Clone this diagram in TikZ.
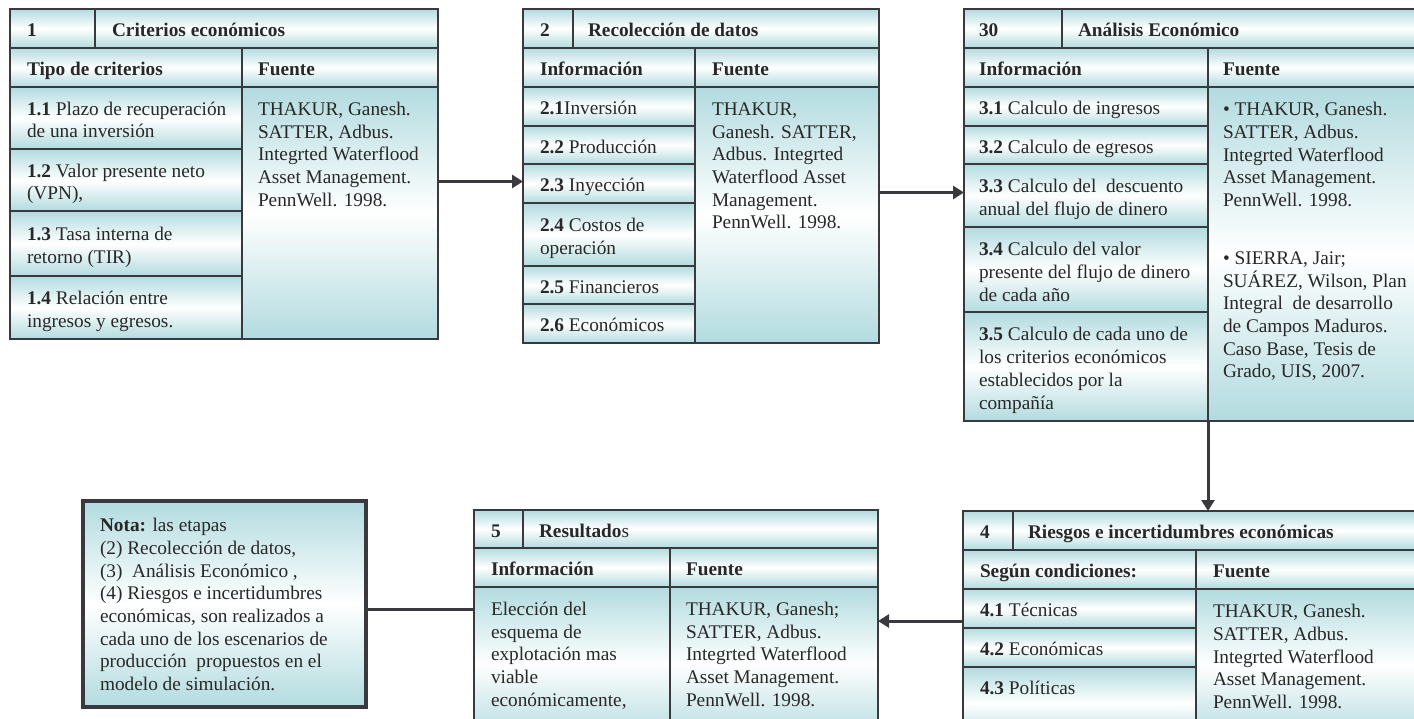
\documentclass[tikz,border=0pt]{standalone}
\usepackage{fontspec}
\setmainfont{Liberation Serif}
\usetikzlibrary{arrows.meta,fit}
\definecolor{tealc}{RGB}{178,219,223}
\definecolor{edgec}{RGB}{58,58,62}
\definecolor{txtc}{RGB}{40,40,40}
\newcommand{\cellr}[4]{\path[cellst] (#1,#2) rectangle (#3,#4);}
\begin{document}
\begin{tikzpicture}[x=0.5pt,y=-0.5pt,
  cellst/.style={draw=edgec, line width=1pt, top color=tealc, bottom color=tealc, middle color=white},
  notast/.style={draw=edgec, line width=2pt, top color=tealc, bottom color=tealc, middle color=white},
  txt/.style={anchor=base west, inner sep=0pt, outer sep=0pt, align=left, text=txtc, font=\fontsize{9.65}{11.35}\selectfont},
  framebox/.style={inner sep=0pt, outer sep=0pt, draw=none},
  arr/.style={draw=edgec, line width=1.5pt, -{Triangle[length=5.5pt,width=6.5pt]}},
  link/.style={draw=edgec, line width=1.5pt}]
\useasboundingbox (0,0) rectangle (1414,718);
\clip (0,0) rectangle (1414,718);

% ---------------- Box 1
\cellr{10}{9}{95}{48} \cellr{95}{9}{438}{48}
\cellr{10}{48}{242}{87} \cellr{242}{48}{438}{87}
\cellr{10}{87}{242}{149} \cellr{10}{149}{242}{211}
\cellr{10}{211}{242}{276} \cellr{10}{276}{242}{339}
\cellr{242}{87}{438}{339}
\node[framebox, fit={(10,9) (438,339)}] (b1) {};
\node[txt] (t1n) at (27,36.9) {\textbf{1}};
\node[txt] (t1t) at (112,36.9) {\textbf{Criterios económicos}};
\node[txt] (t1ha) at (27,75.9) {\textbf{Tipo de criterios}};
\node[txt] (t1hb) at (258,75.9) {\textbf{Fuente}};
\node[txt] (t11) at (27,137.75) {\textbf{1.1} Plazo de recuperación\\de una inversión};
\node[txt] (t12) at (27,199.75) {\textbf{1.2} Valor presente neto\\(VPN),};
\node[txt] (t13) at (27,263.25) {\textbf{1.3} Tasa interna de\\retorno (TIR)};
\node[txt] (t14) at (27,327.25) {\textbf{1.4} Relación entre\\ingresos y egresos.};
\node[txt] (t1f) at (258,206.2) {THAKUR, Ganesh.\\SATTER, Adbus.\\Integrted Waterflood\\Asset Management.\\PennWell. 1998.};

% ---------------- Box 2
\cellr{523}{9}{573}{48} \cellr{573}{9}{879}{48}
\cellr{523}{48}{695}{87} \cellr{695}{48}{879}{87}
\cellr{523}{87}{695}{126} \cellr{523}{126}{695}{164}
\cellr{523}{164}{695}{203} \cellr{523}{203}{695}{266}
\cellr{523}{266}{695}{304} \cellr{523}{304}{695}{343}
\cellr{695}{87}{879}{343}
\node[framebox, fit={(523,9) (879,343)}] (b2) {};
\node[txt] (t2n) at (540,36.9) {\textbf{2}};
\node[txt] (t2t) at (588,36.9) {\textbf{Recolección de datos}};
\node[txt] (t2ha) at (540,75.9) {\textbf{Información}};
\node[txt] (t2hb) at (712,75.9) {\textbf{Fuente}};
\node[txt] (t21) at (540,114.9) {\textbf{2.1}Inversión};
\node[txt] (t22) at (540,153.4) {\textbf{2.2} Producción};
\node[txt] (t23) at (540,191.9) {\textbf{2.3} Inyección};
\node[txt] (t24) at (540,254.25) {\textbf{2.4} Costos de\\operación};
\node[txt] (t25) at (540,293.4) {\textbf{2.5} Financieros};
\node[txt] (t26) at (540,331.9) {\textbf{2.6} Económicos};
\node[txt] (t2f) at (712,228.9) {THAKUR,\\Ganesh. SATTER,\\Adbus. Integrted\\Waterflood Asset\\Management.\\PennWell. 1998.};

% ---------------- Box 3
\cellr{964}{9}{1062}{48} \cellr{1062}{9}{1440}{48}
\cellr{964}{48}{1208}{87} \cellr{1208}{48}{1440}{87}
\cellr{964}{87}{1208}{126} \cellr{964}{126}{1208}{164}
\cellr{964}{164}{1208}{227} \cellr{964}{227}{1208}{312}
\cellr{964}{312}{1208}{421}
\cellr{1208}{87}{1440}{421}
\node[framebox, fit={(964,9) (1440,421)}] (b3) {};
\node[txt] (t3n) at (979,36.9) {\textbf{30}};
\node[txt] (t3t) at (1078,36.9) {\textbf{Análisis Económico}};
\node[txt] (t3ha) at (979,75.9) {\textbf{Información}};
\node[txt] (t3hb) at (1223,75.9) {\textbf{Fuente}};
\node[txt] (t31) at (979,114.9) {\textbf{3.1} Calculo de ingresos};
\node[txt] (t32) at (979,153.4) {\textbf{3.2} Calculo de egresos};
\node[txt] (t33) at (979,215.25) {\textbf{3.3} Calculo del\ \ descuento\\anual del flujo de dinero};
\node[txt] (t34) at (979,301.0) {\textbf{3.4} Calculo del valor\\presente del flujo de dinero\\de cada año};
\node[txt] (t35) at (979,409.0) {\textbf{3.5} Calculo de cada uno de\\los criterios económicos\\establecidos por la\\compañía};
\node[txt] (t3fa) at (1223,206.6) {• THAKUR, Ganesh.\\SATTER, Adbus.\\Integrted Waterflood\\Asset Management.\\PennWell. 1998.};
\node[txt] (t3fb) at (1223,377.9) {• SIERRA, Jair;\\SUÁREZ, Wilson, Plan\\Integral\ \ de desarrollo\\de Campos Maduros.\\Caso Base, Tesis de\\Grado, UIS, 2007.};

% ---------------- Box 4
\cellr{963}{511}{1013}{550} \cellr{1013}{511}{1440}{550}
\cellr{963}{550}{1196}{589} \cellr{1196}{550}{1440}{589}
\cellr{963}{589}{1196}{628} \cellr{963}{628}{1196}{667}
\cellr{963}{667}{1196}{740}
\cellr{1196}{589}{1440}{740}
\node[framebox, fit={(963,511) (1440,740)}] (b4) {};
\node[txt] (t4n) at (980,538.9) {\textbf{4}};
\node[txt] (t4t) at (1028,538.9) {\textbf{Riesgos e incertidumbres económicas}};
\node[txt] (t4ha) at (980,577.9) {\textbf{Según condiciones:}};
\node[txt] (t4hb) at (1213,577.9) {\textbf{Fuente}};
\node[txt] (t41) at (980,616.9) {\textbf{4.1} Técnicas};
\node[txt] (t42) at (980,655.9) {\textbf{4.2} Económicas};
\node[txt] (t43) at (980,694.4) {\textbf{4.3} Políticas};
\node[txt] (t4f) at (1213,708.5) {THAKUR, Ganesh.\\SATTER, Adbus.\\Integrted Waterflood\\Asset Management.\\PennWell. 1998.};

% ---------------- Box 5
\cellr{474}{510}{523}{548} \cellr{523}{510}{878}{548}
\cellr{474}{548}{670}{587} \cellr{670}{548}{878}{587}
\cellr{474}{587}{670}{740} \cellr{670}{587}{878}{740}
\node[framebox, fit={(474,510) (878,740)}] (b5) {};
\node[txt] (t5n) at (491,537.4) {\textbf{5}};
\node[txt] (t5t) at (539,537.4) {\textbf{Resultado}s};
\node[txt] (t5ha) at (491,575.9) {\textbf{Información}};
\node[txt] (t5hb) at (686,575.9) {\textbf{Fuente}};
\node[txt] (t5i) at (491,706.2) {Elección del\\esquema de\\explotación mas\\viable\\económicamente,};
\node[txt] (t5f) at (686,706.2) {THAKUR, Ganesh;\\SATTER, Adbus.\\Integrted Waterflood\\Asset Management.\\PennWell. 1998.};

% ---------------- Nota
\path[notast] (83,501) rectangle (366,707);
\node[framebox, fit={(83,501) (366,707)}] (nota) {};
\node[txt] (tnota) at (100,690.6) {\textbf{Nota:} las etapas\\(2) Recolección de datos,\\(3)\ \ Análisis Económico ,\\(4) Riesgos e incertidumbres\\económicas, son realizados a\\cada uno de los escenarios de\\producción\ \ propuestos en el\\modelo de simulación.};

% ---------------- Connectors
\coordinate (ya) at (0,181.5);
\coordinate (yb) at (0,192.5);
\coordinate (xc) at (1208,0);
\coordinate (yd) at (0,621);
\coordinate (ye) at (0,609);
\draw[arr] (b1.east |- ya) -- (b2.west |- ya);
\draw[arr] (b2.east |- yb) -- (b3.west |- yb);
\draw[arr] (b3.south -| xc) -- (b4.north -| xc);
\draw[arr] (b4.west |- yd) -- (b5.east |- yd);
\draw[link] (nota.east |- ye) -- (b5.west |- ye);
\end{tikzpicture}
\end{document}
